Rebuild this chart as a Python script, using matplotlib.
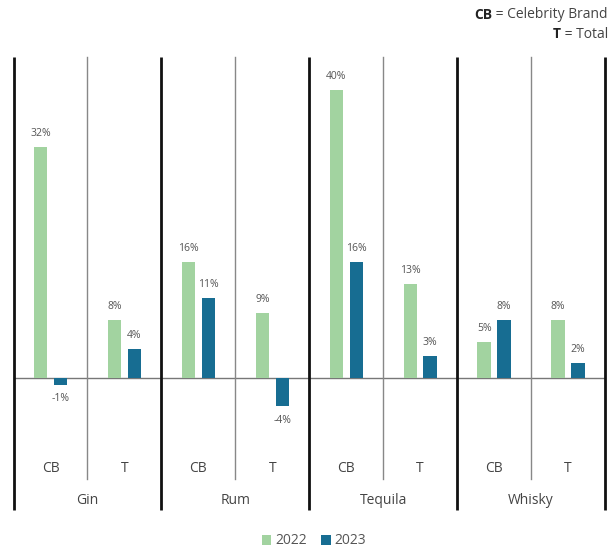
import matplotlib
matplotlib.use("Agg")
import matplotlib.pyplot as plt
from matplotlib.patches import Patch

plt.rcParams['font.family'] = ['Open Sans', 'DejaVu Sans']

groups = ["Gin", "Rum", "Tequila", "Whisky"]
subcats = ["CB", "T"]
years = ["2022", "2023"]
v2022 = [32, 8, 16, 9, 40, 13, 5, 8]
v2023 = [-1, 4, 11, -4, 16, 3, 8, 2]
labels2022 = ["32%", "8%", "16%", "9%", "40%", "13%", "5%", "8%"]
labels2023 = ["-1%", "4%", "11%", "-4%", "16%", "3%", "8%", "2%"]

c22 = "#a2d3a0"
c23 = "#176d92"
txt = "#555555"

W, H = 612, 547
fig = plt.figure(figsize=(W/100, H/100), dpi=100)
x0, x1 = 13.5, 605
ytop, ybot = 57, 510
ax = fig.add_axes([x0/W, 1 - ybot/H, (x1-x0)/W, (ybot-ytop)/H])

pxper = 7.2
zero_px = 377.5
ymax = (zero_px - ytop)/pxper
ymin = -(ybot - zero_px)/pxper
ax.set_xlim(0, 8)
ax.set_ylim(ymin, ymax)
ax.axis('off')

def py(p):
    return (zero_px - p)/pxper

n = len(v2022)
centers = [i + 0.5 for i in range(n)]
off = 0.135
bw = 0.18
b1 = ax.bar([c - off for c in centers], v2022, width=bw, color=c22, zorder=2)
b2 = ax.bar([c + off for c in centers], v2023, width=bw, color=c23, zorder=2)

for bars, labs in ((b1, labels2022), (b2, labels2023)):
    for b, lab in zip(bars, labs):
        h = b.get_height()
        xc = b.get_x() + b.get_width()/2
        if h >= 0:
            ax.text(xc, h + 1.1, lab, ha='center', va='bottom', fontsize=7.5, color=txt)
        else:
            ax.text(xc, h - 1.2, lab, ha='center', va='top', fontsize=7.5, color=txt)

ax.axhline(0, color="#777777", lw=1, zorder=1)

for g in range(len(groups) + 1):
    ax.plot([2*g, 2*g], [ymin, ymax], color="#111111", lw=2, solid_capstyle='butt', clip_on=False)
for g in range(len(groups)):
    ax.plot([2*g + 1, 2*g + 1], [py(479), ymax], color="#888888", lw=1, clip_on=False)
    for k, s in enumerate(subcats):
        ax.text(2*g + k + 0.5, py(469), s, ha='center', va='center', fontsize=10, color="#444444")
    ax.text(2*g + 1, py(501), groups[g], ha='center', va='center', fontsize=10, color="#444444")

handles = [Patch(facecolor=c22, label=years[0]), Patch(facecolor=c23, label=years[1])]
leg = fig.legend(handles=handles, loc='center', bbox_to_anchor=(314/W, 1 - 541/H), ncol=2,
                 frameon=False, fontsize=10, handlelength=0.7, handleheight=0.7,
                 handletextpad=0.3, columnspacing=1.0, labelcolor="#555555")

t1 = fig.text(608/W, 1 - 15/H, " = Celebrity Brand", ha='right', va='center', fontsize=10, color="#444444")
t2 = fig.text(608/W, 1 - 34/H, " = Total", ha='right', va='center', fontsize=10, color="#444444")
fig.canvas.draw()
r = fig.canvas.get_renderer()
e1 = t1.get_window_extent(r)
e2 = t2.get_window_extent(r)
fig.text(e1.x0/W, 1 - 15/H, "CB", ha='right', va='center', fontsize=10, weight='bold', color="#222222")
fig.text(e2.x0/W, 1 - 34/H, "T", ha='right', va='center', fontsize=10, weight='bold', color="#222222")

fig.savefig("out.png", dpi=100, facecolor='white')
